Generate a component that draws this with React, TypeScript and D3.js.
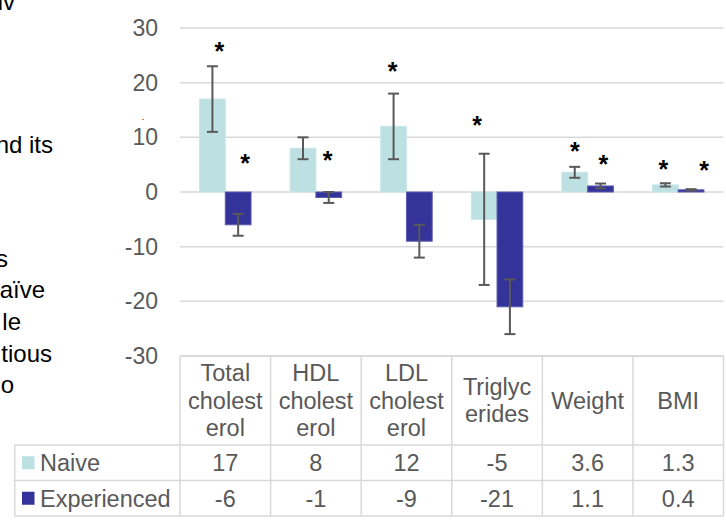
import { useEffect, useRef } from 'react'
import * as d3 from 'd3'

const categories = ['Total cholesterol', 'HDL cholesterol', 'LDL cholesterol', 'Triglycerides', 'Weight', 'BMI']
const headerLines = [
  ['Total', 'cholest', 'erol'],
  ['HDL', 'cholest', 'erol'],
  ['LDL', 'cholest', 'erol'],
  ['Triglyc', 'erides'],
  ['Weight'],
  ['BMI']
]
const seriesNames = ['Naive', 'Experienced']
const naive = [17, 8, 12, -5, 3.6, 1.3]
const experienced = [-6, -1, -9, -21, 1.1, 0.4]
const naiveErr = [6, 2, 6, 12, 1, 0.3]
const experiencedErr = [2, 1, 3, 5, 0.45, 0.12]
const naiveLabels = ['17', '8', '12', '-5', '3.6', '1.3']
const experiencedLabels = ['-6', '-1', '-9', '-21', '1.1', '0.4']
const yTicks = [30, 20, 10, 0, -10, -20, -30]

// significance asterisks: category index, series index, level in data units
const stars = [
  { c: 0, s: 0, v: 26.7 },
  { c: 0, s: 1, v: 6.3 },
  { c: 1, s: 1, v: 6.8 },
  { c: 2, s: 0, v: 23 },
  { c: 3, s: 0, v: 13.2 },
  { c: 4, s: 0, v: 8.4 },
  { c: 4, s: 1, v: 6 },
  { c: 5, s: 0, v: 5.2 },
  { c: 5, s: 1, v: 4.9 }
]
const starNudge = [7, 7, -1, -1, -7, 0, 3, -2, 13]

// slide text cut off at the left edge
const sideText = ['iv', 'nd its', 's', 'aïve', 'le', 'tious', 'o']
const sideTextPos = [
  [15, 10], [53, 153], [8, 267], [45, 298], [21, 330], [52, 362], [14, 393]
]

const colors = ['#BDE0E3', '#333399']
const W = 726
const H = 524

export default function App() {
  const svgRef = useRef<SVGSVGElement>(null)

  useEffect(() => {
    if (!svgRef.current) return
    const svg = d3.select(svgRef.current)
    svg.selectAll('*').remove()

    const plotLeft = 180
    const plotRight = 723.5
    const top = 28
    const bottom = 356
    const headerBottom = 445
    const rowH = 35.5
    const legendLeft = 14.7
    const font = 'Arial, "Liberation Sans", sans-serif'
    const grey = '#595959'
    const lineCol = '#D9D9D9'

    const y = d3.scaleLinear().domain([-30, 30]).range([bottom, top])
    const x0 = d3.scaleBand().domain(categories).range([plotLeft, plotRight])
    const x1 = d3.scaleBand().domain(seriesNames).range([0, x0.bandwidth()]).paddingOuter(0.76)

    // left slide text
    svg.append('g').selectAll('text')
      .data(sideText)
      .enter()
      .append('text')
      .attr('x', (d, i) => sideTextPos[i][0])
      .attr('y', (d, i) => sideTextPos[i][1])
      .attr('text-anchor', 'end')
      .attr('font-family', font)
      .attr('font-size', 24)
      .attr('fill', '#000')
      .text(d => d)

    svg.append('text')
      .attr('x', 143).attr('y', 120)
      .attr('font-family', font).attr('font-size', 10)
      .attr('text-anchor', 'middle')
      .attr('fill', '#333')
      .text('.')

    // gridlines
    svg.append('g').selectAll('line')
      .data(yTicks)
      .enter()
      .append('line')
      .attr('x1', plotLeft)
      .attr('x2', plotRight)
      .attr('y1', d => y(d))
      .attr('y2', d => y(d))
      .attr('stroke', lineCol)
      .attr('stroke-width', 1.5)

    // y labels
    svg.append('g').selectAll('text')
      .data(yTicks)
      .enter()
      .append('text')
      .attr('x', 158)
      .attr('y', d => y(d) + 8)
      .attr('text-anchor', 'end')
      .attr('font-family', font)
      .attr('font-size', 23)
      .attr('fill', grey)
      .text(d => d)

    const series = [
      { name: 'Naive', values: naive, err: naiveErr },
      { name: 'Experienced', values: experienced, err: experiencedErr }
    ]

    series.forEach((s, si) => {
      const g = svg.append('g')
      const cx = (i: number) => (x0(categories[i]) || 0) + (x1(s.name) || 0) + x1.bandwidth() / 2

      g.selectAll('rect')
        .data(s.values)
        .enter()
        .append('rect')
        .attr('x', (d, i) => (x0(categories[i]) || 0) + (x1(s.name) || 0))
        .attr('width', x1.bandwidth())
        .attr('y', d => y(Math.max(0, d)))
        .attr('height', d => Math.abs(y(d) - y(0)))
        .attr('fill', colors[si])
        .attr('stroke', si === 1 ? '#5A5AB0' : '#C9E6E9')
        .attr('stroke-width', 1)

      // error bars
      const eb = g.selectAll('.err')
        .data(s.values)
        .enter()
        .append('g')
        .attr('class', 'err')
      eb.append('line')
        .attr('x1', (d, i) => cx(i))
        .attr('x2', (d, i) => cx(i))
        .attr('y1', (d, i) => y(d + s.err[i]))
        .attr('y2', (d, i) => y(d - s.err[i]))
        .attr('stroke', grey)
        .attr('stroke-width', 2)
      ;[1, -1].forEach(sign => {
        eb.append('line')
          .attr('x1', (d, i) => cx(i) - 5.5)
          .attr('x2', (d, i) => cx(i) + 5.5)
          .attr('y1', (d, i) => y(d + sign * s.err[i]))
          .attr('y2', (d, i) => y(d + sign * s.err[i]))
          .attr('stroke', grey)
          .attr('stroke-width', 2)
      })
    })

    // asterisks
    svg.append('g').selectAll('text')
      .data(stars)
      .enter()
      .append('text')
      .attr('x', (d, i) => (x0(categories[d.c]) || 0) + (x1(seriesNames[d.s]) || 0) + x1.bandwidth() / 2 + starNudge[i])
      .attr('y', d => y(d.v) + 14)
      .attr('text-anchor', 'middle')
      .attr('font-family', font)
      .attr('font-size', 25)
      .attr('font-weight', 'bold')
      .attr('fill', '#000')
      .text('*')

    // data table
    const tbl = svg.append('g')
    const colEdges = categories.map(c => x0(c) || 0).concat([plotRight])
    const row1 = headerBottom + rowH
    const row2 = row1 + rowH

    // horizontal lines
    tbl.append('line').attr('x1', plotLeft).attr('x2', plotRight).attr('y1', bottom).attr('y2', bottom)
    ;[headerBottom, row1, row2].forEach(yy => {
      tbl.append('line').attr('x1', legendLeft).attr('x2', plotRight).attr('y1', yy).attr('y2', yy)
    })
    // vertical lines
    colEdges.forEach(xx => {
      tbl.append('line').attr('x1', xx).attr('x2', xx).attr('y1', bottom).attr('y2', row2)
    })
    tbl.append('line').attr('x1', legendLeft).attr('x2', legendLeft).attr('y1', headerBottom).attr('y2', row2)
    tbl.selectAll('line').attr('stroke', lineCol).attr('stroke-width', 1.5)

    // header text
    const headerMid = (bottom + headerBottom) / 2
    headerLines.forEach((lines, i) => {
      const cx = (x0(categories[i]) || 0) + x0.bandwidth() / 2
      lines.forEach((ln, li) => {
        tbl.append('text')
          .attr('x', cx)
          .attr('y', headerMid + 8 + (li - (lines.length - 1) / 2) * 27.2)
          .attr('text-anchor', 'middle')
          .attr('font-family', font)
          .attr('font-size', 23.5)
          .attr('fill', grey)
          .text(ln)
      })
    })

    // rows
    const rows = [naiveLabels, experiencedLabels]
    rows.forEach((labels, ri) => {
      const mid = headerBottom + rowH * ri + rowH / 2
      tbl.append('rect')
        .attr('x', 22).attr('y', mid - 6.5)
        .attr('width', 12.5).attr('height', 13)
        .attr('fill', colors[ri])
      tbl.append('text')
        .attr('x', 40).attr('y', mid + 8.5)
        .attr('font-family', font).attr('font-size', 23.5)
        .attr('fill', grey)
        .text(seriesNames[ri])
      labels.forEach((lab, i) => {
        tbl.append('text')
          .attr('x', (x0(categories[i]) || 0) + x0.bandwidth() / 2)
          .attr('y', mid + 8.5)
          .attr('text-anchor', 'middle')
          .attr('font-family', font)
          .attr('font-size', 23.5)
          .attr('fill', grey)
          .text(lab)
      })
    })
  }, [])

  return (
    <svg
      ref={svgRef}
      width={W}
      height={H}
      style={{ position: 'absolute', left: 0, top: 0, background: '#fff' }}
    />
  )
}
